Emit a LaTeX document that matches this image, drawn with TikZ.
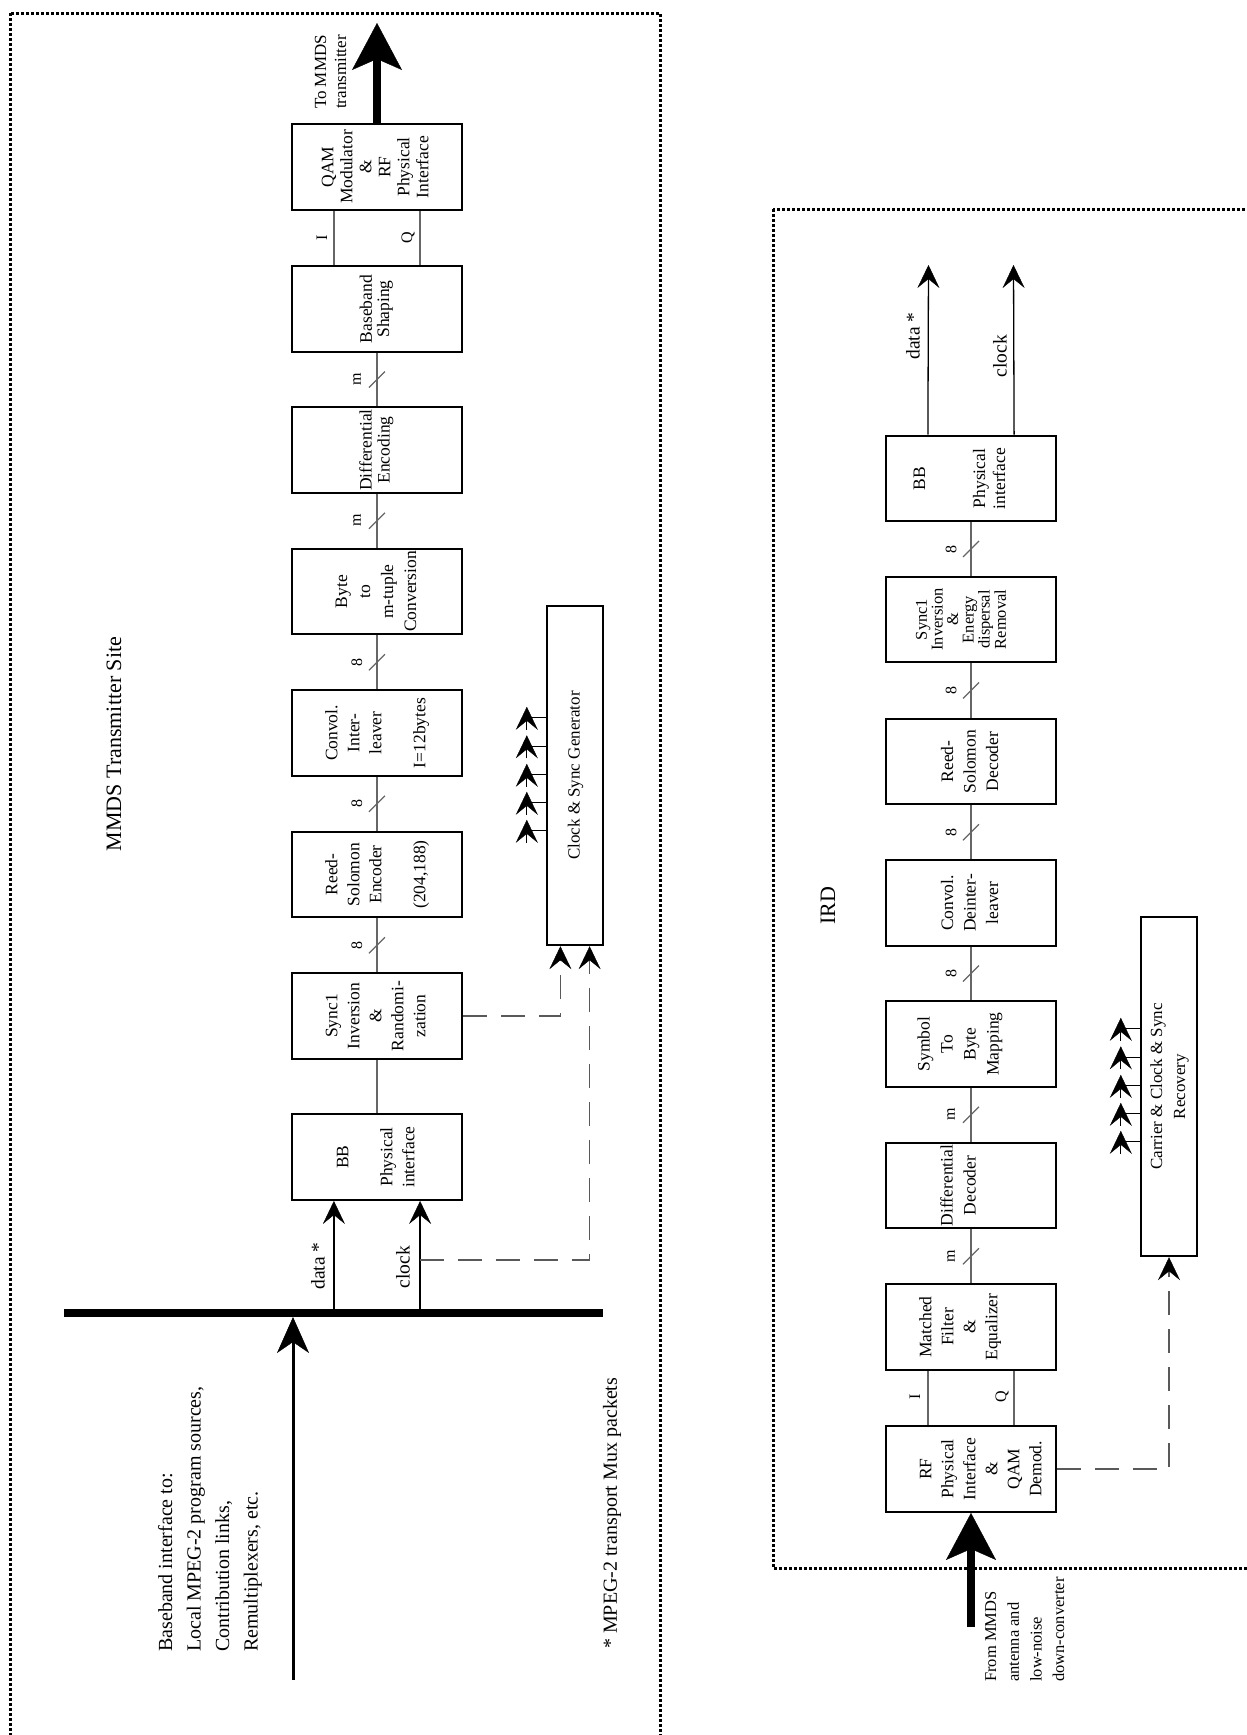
\documentclass[tikz,border=0pt]{standalone}
\usepackage{fontspec}
\setmainfont{Liberation Serif}
\usepackage{graphicx}
\usetikzlibrary{arrows.meta,calc}

% rotated multi-line texts (read bottom to top)
\newcommand{\vt}[1]{\rotatebox{90}{\begin{tabular}{@{}c@{}}#1\end{tabular}}}
\newcommand{\vtl}[1]{\rotatebox{90}{\begin{tabular}{@{}l@{}}#1\end{tabular}}}

\tikzset{
  blk/.style={draw, line width=2.4pt, inner sep=0pt, minimum width=170pt, minimum height=85.5pt,
    font=\fontsize{17.5}{22}\selectfont},
  tall/.style={draw, line width=2.4pt, inner sep=0pt, minimum width=56pt, minimum height=339pt,
    font=\fontsize{17}{23}\selectfont},
  link/.style={line width=1.3pt, black!60},
  tip/.style={-{Stealth[length=23pt,width=22pt,inset=9pt,line width=0.4pt,color=black]}},
  sig/.style={line width=1.3pt, tip},
  dashln/.style={line width=1.3pt, black!65, dash pattern=on 24pt off 14pt, tip},
  site/.style={line width=3pt, dash pattern=on 3.2pt off 1.8pt},
  fat/.style={line width=7.5pt, -{Stealth[length=47pt,width=50pt,inset=11pt,line width=0.4pt]}},
  lab/.style={inner sep=0pt, font=\fontsize{16}{16}\selectfont},
  sigtxt/.style={inner sep=0pt, font=\fontsize{19.5}{20}\selectfont},
  big/.style={inner sep=0pt, font=\fontsize{20}{28.5}\selectfont},
}

% link between two blocks with a bus-width mark
\newcommand{\wbus}[4]{%
  \draw[link] (#1) -- (#2) coordinate[midway] (#4);
  \draw[link] ($(#4)+(-8,8)$) -- ($(#4)+(8,-8)$);
  \node[lab] (#4t) at ($(#4)+(-20,0)$) {\rotatebox{90}{#3}};
}
% clock / sync tap on the left side of a generator box
\newcommand{\tap}[1]{%
  \draw[line width=1.3pt] (#1) -- ++(-19,0);
  \draw[line width=1.3pt, tip] ($(#1)+(-19,12)$) -- ++(0,-23);
}

\begin{document}
\begin{tikzpicture}[x=1pt, y=-1pt]

  %% site frames
  \draw[site] (10,13) rectangle (660,1760);
  \draw[site] (773,209) rectangle (1260,1568);

  \node[big, font=\fontsize{22}{22}\selectfont] (site) at (114,744) {\rotatebox{90}{MMDS Transmitter Site}};
  \node[big, font=\fontsize{22}{22}\selectfont] (ird) at (828,906) {\rotatebox{90}{IRD}};

  %% transmitter chain
  \node[blk, font=\fontsize{17.5}{19}\selectfont] (qam) at (377,167) {\vt{QAM\\Modulator\\\&\\RF\\Physical\\Interface}};
  \node[blk, font=\fontsize{17.5}{17}\selectfont] (shp) at (377,309) {\vt{Baseband\\Shaping}};
  \node[blk, font=\fontsize{17.5}{18}\selectfont] (denc) at (377,450) {\vt{Differential\\Encoding}};
  \node[blk, font=\fontsize{17.5}{23}\selectfont] (b2m) at (377,591.5) {\vt{Byte\\to\\m-tuple\\Conversion}};
  \node[blk] (ilv) at (377,733) {\vt{Convol.\\Inter-\\leaver\\ \\I=12bytes}};
  \node[blk] (rse) at (377,874.5) {\vt{Reed-\\Solomon\\Encoder\\ \\(204,188)}};
  \node[blk] (rnd) at (377,1016) {\vt{Sync1\\Inversion\\\&\\Randomi-\\zation}};
  \node[blk] (bbt) at (377,1157) {\vt{BB\\ \\Physical\\interface}};

  \node[tall] (ckg) at (575,775.5) {\vt{Clock \& Sync Generator}};

  \draw[link] ($(qam.south west)!.25!(qam.south east)$) -- ($(shp.north west)!.25!(shp.north east)$);
  \draw[link] ($(qam.south west)!.75!(qam.south east)$) -- ($(shp.north west)!.75!(shp.north east)$);
  \node[lab] (ti) at (322,238) {\rotatebox{90}{I}};
  \node[lab] (tq) at (408,238) {\rotatebox{90}{Q}};
  \wbus{shp.south}{denc.north}{m}{w1}
  \wbus{denc.south}{b2m.north}{m}{w2}
  \wbus{b2m.south}{ilv.north}{8}{w3}
  \wbus{ilv.south}{rse.north}{8}{w4}
  \wbus{rse.south}{rnd.north}{8}{w5}
  \draw[link] (rnd.south) -- (bbt.north);

  \coordinate (txout) at (377,23);
  \draw[fat] (qam.north) -- (txout);
  \node[inner sep=0pt, font=\fontsize{17}{20}\selectfont] (tot) at (332,72) {\vt{To MMDS\\transmitter}};

  %% baseband bus and inputs
  \coordinate (busl) at (64,1313);
  \coordinate (busr) at (603,1313);
  \draw[line width=8pt] (busl) -- (busr);
  \coordinate (feed) at (293,1680);
  \draw[line width=3pt, -{Stealth[length=36pt,width=32pt,inset=11pt,line width=0.4pt]}] (feed) -- (293,1317);

  \coordinate (din) at ($(bbt.south west)!.25!(bbt.south east)$);
  \coordinate (cin) at ($(bbt.south west)!.75!(bbt.south east)$);
  \draw[sig] (din |- busl) -- (din);
  \draw[sig] (cin |- busl) -- (cin);
  \node[sigtxt] (ldat) at (318,1266) {\rotatebox{90}{data *}};
  \node[sigtxt] (lclk) at (403,1267) {\rotatebox{90}{clock}};

  \coordinate (ckp) at ($(ckg.south west)!.25!(ckg.south east)$);
  \coordinate (ckq) at ($(ckg.south west)!.75!(ckg.south east)$);
  \coordinate (ctap) at (419.5,1260);
  \draw[dashln] (ctap) -| (ckq);
  \draw[dashln] (rnd.east) -| (ckp);

  \coordinate (ck1) at ($(ckg.north west)+(0,113)$);
  \coordinate (ck2) at ($(ckg.north west)+(0,141.5)$);
  \coordinate (ck3) at ($(ckg.north west)+(0,170)$);
  \coordinate (ck4) at ($(ckg.north west)+(0,198)$);
  \coordinate (ck5) at ($(ckg.north west)+(0,226)$);
  \tap{ck1} \tap{ck2} \tap{ck3} \tap{ck4} \tap{ck5}

  \node[big, anchor=south west] (bif) at (152,1652) {\vtl{Baseband interface to:\\Local MPEG-2 program sources,\\Contribution links,\\Remultiplexers, etc.}};
  \node[big, anchor=south] (note) at (612,1649) {\rotatebox{90}{* MPEG-2 transport Mux packets}};

  %% receiver chain
  \node[blk, font=\fontsize{17.5}{20}\selectfont] (bbr) at (971,478.5) {\vt{BB\\ \\ \\Physical\\interface\\~}};
  \node[blk, font=\fontsize{16.5}{15.5}\selectfont] (dsp) at (971,619.5) {\vt{Sync1\\Inversion\\\&\\Energy\\dispersal\\Removal\\~}};
  \node[blk, font=\fontsize{17.5}{22.5}\selectfont] (rsd) at (971,761.5) {\vt{Reed-\\Solomon\\Decoder}};
  \node[blk, font=\fontsize{17.5}{22.5}\selectfont] (dil) at (971,903) {\vt{Convol.\\Deinter-\\leaver}};
  \node[blk, font=\fontsize{17.5}{23}\selectfont] (s2b) at (971,1044) {\vt{Symbol\\To\\Byte\\Mapping\\~}};
  \node[blk, font=\fontsize{17.5}{23}\selectfont] (ddec) at (971,1185.5) {\vt{Differential\\Decoder\\~}};
  \node[blk] (mfe) at (971,1327) {\vt{Matched\\Filter\\\&\\Equalizer\\~}};
  \node[blk] (rfd) at (971,1469) {\vt{~\\RF\\Physical\\Interface\\\&\\QAM\\Demod.}};

  \node[tall] (crr) at (1169,1086.5) {\vt{Carrier \& Clock \& Sync\\Recovery}};

  \wbus{bbr.south}{dsp.north}{8}{v1}
  \wbus{dsp.south}{rsd.north}{8}{v2}
  \wbus{rsd.south}{dil.north}{8}{v3}
  \wbus{dil.south}{s2b.north}{8}{v4}
  \wbus{s2b.south}{ddec.north}{m}{v5}
  \wbus{ddec.south}{mfe.north}{m}{v6}
  \draw[link] ($(rfd.north west)!.25!(rfd.north east)$) -- ($(mfe.south west)!.25!(mfe.south east)$);
  \draw[link] ($(rfd.north west)!.75!(rfd.north east)$) -- ($(mfe.south west)!.75!(mfe.south east)$);
  \node[lab] (ri) at (915,1397) {\rotatebox{90}{I}};
  \node[lab] (rq) at (1002,1397) {\rotatebox{90}{Q}};

  \coordinate (rxin) at (971,1627);
  \draw[fat] (rxin) -- (rfd.south);
  \node[inner sep=0pt, anchor=south west, font=\fontsize{16.5}{22.7}\selectfont] (frm) at (980,1682) {\vtl{From MMDS\\antenna and\\low-noise\\down-converter}};

  \draw[dashln] (rfd.east) -| (crr.south);

  \coordinate (cr1) at ($(crr.north west)+(0,113)$);
  \coordinate (cr2) at ($(crr.north west)+(0,141.5)$);
  \coordinate (cr3) at ($(crr.north west)+(0,170)$);
  \coordinate (cr4) at ($(crr.north west)+(0,198)$);
  \coordinate (cr5) at ($(crr.north west)+(0,226)$);
  \tap{cr1} \tap{cr2} \tap{cr3} \tap{cr4} \tap{cr5}

  %% baseband outputs
  \coordinate (dout) at (928.5,265);
  \coordinate (cout) at (1013.5,265);
  \draw[sig] ($(bbr.north west)!.25!(bbr.north east)$) -- (dout);
  \draw[sig] ($(bbr.north west)!.75!(bbr.north east)$) -- (cout);
  \node[sigtxt] (rdat) at (913,336) {\rotatebox{90}{data *}};
  \node[sigtxt] (rclk) at (1000,356) {\rotatebox{90}{clock}};

  \pgfresetboundingbox
  \path[use as bounding box] (0,0) rectangle (1247,1735);
\end{tikzpicture}
\end{document}
